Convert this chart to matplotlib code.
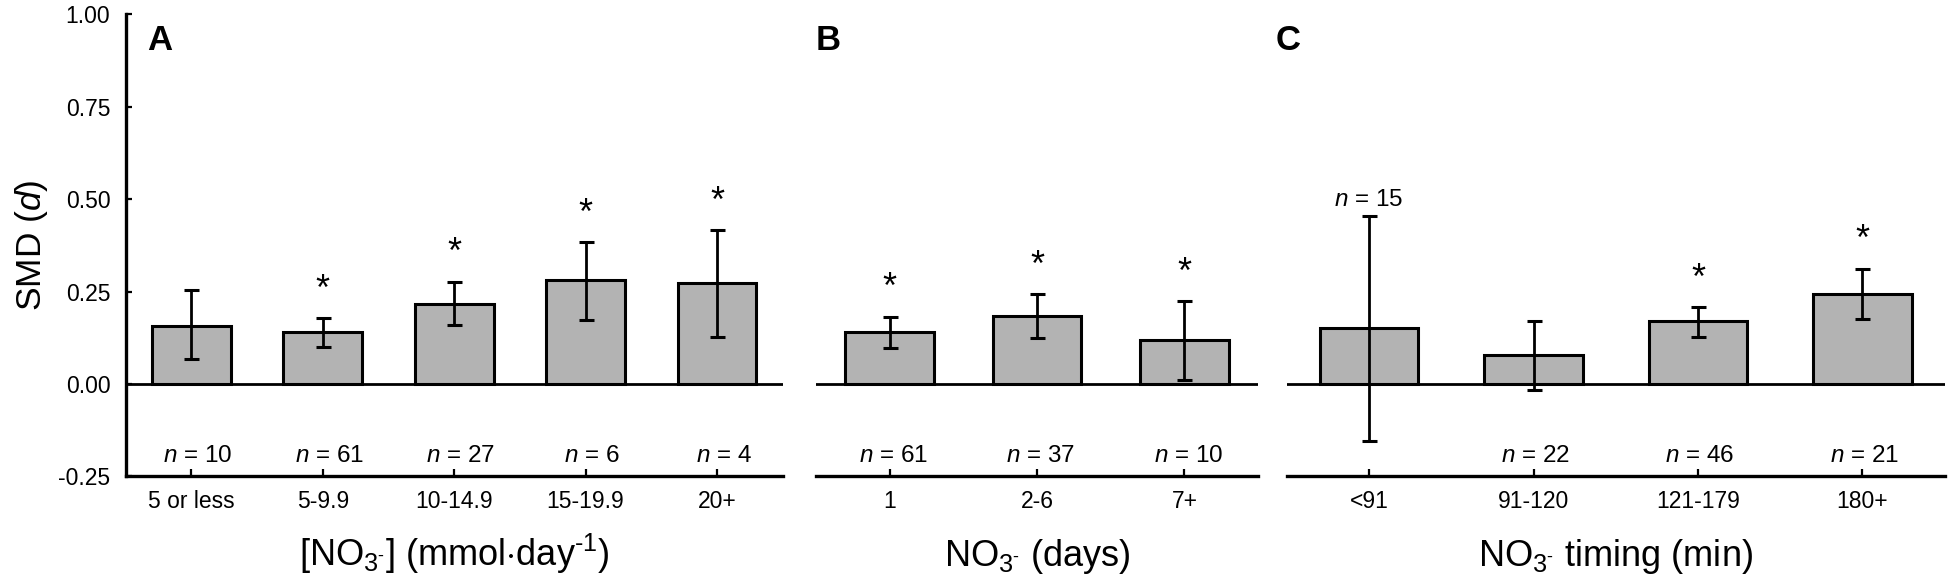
import matplotlib.pyplot as plt
import numpy as np

plt.rcParams['font.family'] = ['Liberation Sans', 'DejaVu Sans']
plt.rcParams['mathtext.fontset'] = 'custom'
plt.rcParams['mathtext.rm'] = 'Liberation Sans'
plt.rcParams['mathtext.it'] = 'Liberation Sans:italic'
plt.rcParams['mathtext.bf'] = 'Liberation Sans:bold'

# panel A: daily nitrate dose
a_cats = ['5 or less', '5-9.9', '10-14.9', '15-19.9', '20+']
a_smd = [0.158, 0.141, 0.217, 0.280, 0.272]
a_lo = [0.067, 0.101, 0.159, 0.173, 0.128]
a_hi = [0.253, 0.178, 0.276, 0.383, 0.416]
a_n = [10, 61, 27, 6, 4]
a_sig = [False, True, True, True, True]

# panel B: supplementation duration
b_cats = ['1', '2-6', '7+']
b_smd = [0.140, 0.185, 0.118]
b_lo = [0.098, 0.125, 0.011]
b_hi = [0.182, 0.242, 0.224]
b_n = [61, 37, 10]
b_sig = [True, True, True]

# panel C: timing before test
c_cats = ['<91', '91-120', '121-179', '180+']
c_smd = [0.150, 0.077, 0.169, 0.244]
c_lo = [-0.154, -0.016, 0.128, 0.175]
c_hi = [0.454, 0.169, 0.207, 0.312]
c_n = [15, 22, 46, 21]
c_sig = [False, False, True, True]
c_n_top = [True, False, False, False]

W, H = 1950, 586
fig = plt.figure(figsize=(W / 100, H / 100), dpi=100)

hy = '\u2010'  # plain hyphen instead of the math minus
no3 = r'NO$_{3^{\mathrm{' + hy + '}}}$'

panels = [
    (a_cats, a_smd, a_lo, a_hi, a_n, a_sig, [False] * 5,
     '[' + no3 + r'] (mmol$\cdot$day$^{\mathrm{' + hy + '1}}$)', 'A', 125.6, 782.7, 147, 0.05),
    (b_cats, b_smd, b_lo, b_hi, b_n, b_sig, [False] * 3,
     no3 + ' (days)', 'B', 815.8, 1258.2, 816, 0.025),
    (c_cats, c_smd, c_lo, c_hi, c_n, c_sig, c_n_top,
     no3 + ' timing (min)', 'C', 1286.8, 1944.7, 1276, 0.01),
]

ax_bottom = 476.4
ax_height = 462.2

for i, (cats, smd, lo, hi, n, sig, n_top, xlabel, letter, x0, x1, lx, n_off) in enumerate(panels):
    ax = fig.add_axes([x0 / W, 1 - ax_bottom / H, (x1 - x0) / W, ax_height / H])
    x = np.arange(len(cats))
    smd = np.array(smd)
    yerr = [smd - np.array(lo), np.array(hi) - smd]

    ax.bar(x, smd, width=0.6, color='#b3b3b3', edgecolor='black', linewidth=2.2, zorder=2)
    ax.errorbar(x, smd, yerr=yerr, fmt='none', ecolor='black', elinewidth=2,
                capsize=5.4, capthick=2.2, zorder=3)
    ax.axhline(0, color='black', lw=2, zorder=4)

    for xi in x:
        if sig[xi]:
            ax.text(xi, hi[xi] + 0.05, '*', ha='center', va='baseline', fontsize=26)
        if n_top[xi]:
            ax.text(xi, hi[xi] + 0.028, f'$n$ = {n[xi]}', ha='center', va='baseline', fontsize=17.5)
        else:
            ax.text(xi + n_off, -0.211, f'$n$ = {n[xi]}', ha='center', va='baseline', fontsize=17.5)

    ax.set_xlim(-0.5, len(cats) - 0.5)
    ax.set_ylim(-0.25, 1.0)
    ax.set_xticks(x)
    ax.set_xticklabels(cats, fontsize=16.5)
    ax.tick_params(axis='x', direction='in', length=5.3, width=1.6, pad=10)
    ax.set_xlabel(xlabel, fontsize=26, va='baseline')
    ax.xaxis.set_label_coords(0.5, -(566 - ax_bottom) / ax_height)

    for side in ['top', 'right']:
        ax.spines[side].set_visible(False)
    ax.spines['bottom'].set_linewidth(2.4)
    if i == 0:
        ax.spines['left'].set_linewidth(2.4)
        ax.set_yticks([-0.25, 0, 0.25, 0.5, 0.75, 1.0])
        ax.set_yticklabels(['-0.25', '0.00', '0.25', '0.50', '0.75', '1.00'], fontsize=16.5)
        ax.tick_params(axis='y', direction='in', length=4, width=1.6, pad=11)
        ax.set_ylabel('SMD ($d$)', fontsize=25.5, labelpad=6)
    else:
        ax.spines['left'].set_visible(False)
        ax.set_yticks([])

    fig.text(lx / W, 1 - 50 / H, letter, fontsize=25, fontweight='bold', ha='left', va='baseline')

fig.savefig('out.png', dpi=100)
